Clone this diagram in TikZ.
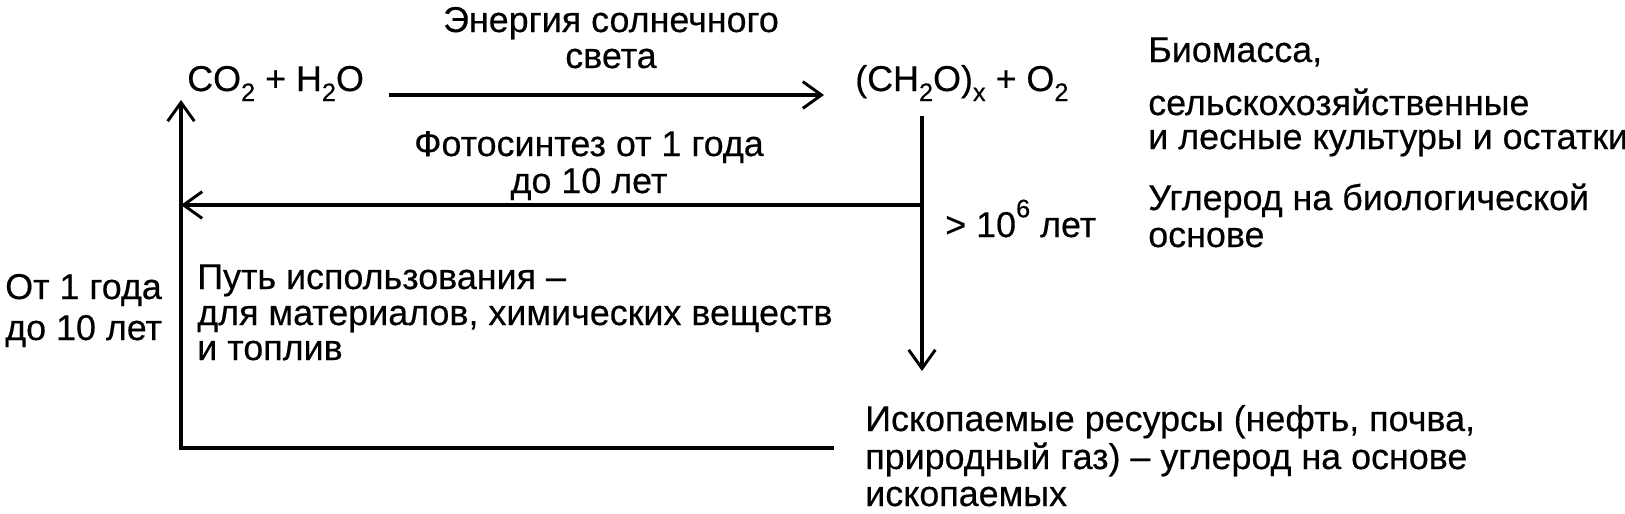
\documentclass[tikz,border=0pt]{standalone}
\usepackage{fontspec}
\setmainfont{Liberation Sans}[FakeBold=0.4]
\usetikzlibrary{arrows.meta}
\newcommand\dn[1]{\raisebox{-0.28em}{\fontsize{19pt}{19pt}\selectfont #1}}
\newcommand\upx[1]{\raisebox{0.55em}{\fontsize{19pt}{19pt}\selectfont #1}}
\begin{document}
\begin{tikzpicture}[x=0.75pt,y=-0.75pt,
  txt/.style={inner sep=0pt,font=\fontsize{26.9pt}{33pt}\selectfont},
  lbl/.style={txt,anchor=base west,align=left},
  ctr/.style={txt,anchor=base,align=center},
  conn/.style={line width=2.4pt},
  tip/.style={-{Straight Barb[length=14pt,width=20pt,line width=2.2pt]}}]
\useasboundingbox (0,0) rectangle (1625,514);
% text nodes
\node[ctr] (sun1) at (611,32) {Энергия солнечного};
\node[ctr] (sun2) at (611,68) {света};
\node[lbl] (co2) at (187,91) {CO\dn{2} + H\dn{2}O};
\node[lbl] (ch2o) at (855,91) {(CH\dn{2}O)\dn{x} + O\dn{2}};
\node[lbl] (bio1) at (1148,62) {Биомасса,};
\node[lbl] (bio2) at (1148,115) {сельскохозяйственные};
\node[lbl] (bio3) at (1148,149) {и лесные культуры и остатки};
\node[lbl] (bc1) at (1148,210) {Углерод на биологической};
\node[lbl] (bc2) at (1148,247) {основе};
\node[ctr] (ph1) at (589,156) {Фотосинтез от 1 года};
\node[ctr] (ph2) at (589,193) {до 10 лет};
\node[lbl] (myr) at (945,237) {> 10\upx{6} лет};
\node[lbl] (yr1) at (5,299) {От 1 года};
\node[lbl] (yr2) at (5,340) {до 10 лет};
\node[lbl] (use1) at (197,289) {Путь использования –};
\node[lbl] (use2) at (197,325) {для материалов, химических веществ};
\node[lbl] (use3) at (197,360) {и топлив};
\node[lbl] (fos1) at (865,431) {Ископаемые ресурсы (нефть, почва,};
\node[lbl] (fos2) at (865,469) {природный газ) – углерод на основе};
\node[lbl] (fos3) at (865,506) {ископаемых};
% connector points
\coordinate (a1) at (389,95);
\coordinate (a2) at (824,95);
\coordinate (r1) at (922,116);
\coordinate (r2) at (922,371);
\coordinate (h1) at (922,205);
\coordinate (l1) at (181,205);
\coordinate (b1) at (834,448);
\coordinate (b2) at (181,448);
\coordinate (u1) at (181,100);
% connectors
\draw[conn,tip] (a1) -- (a2);
\draw[conn,tip] (r1) -- (r2);
\draw[conn,tip] (h1) -- (l1);
\draw[conn,tip] (b1) -- (b2) -- (u1);
\end{tikzpicture}
\end{document}
